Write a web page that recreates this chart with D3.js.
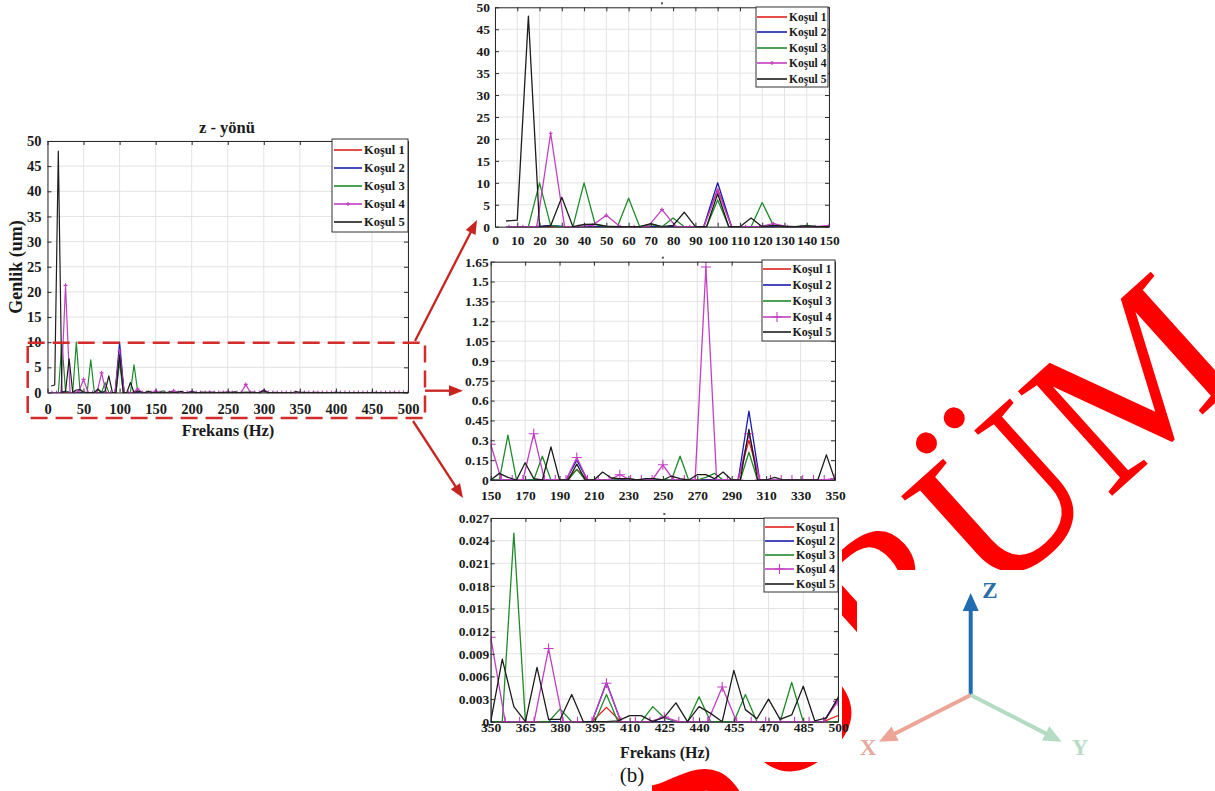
<!DOCTYPE html>
<html>
<head>
<meta charset="utf-8">
<script src="https://cdnjs.cloudflare.com/ajax/libs/d3/7.8.5/d3.min.js"></script>
<style>
  body { margin: 0; background: #fff; }
  text { font-family: "Liberation Serif", "DejaVu Serif", "Times New Roman", serif; }
</style>
</head>
<body>
<svg id="fig" width="1215" height="791"></svg>
<script>
// ---- data ----
var seriesNames = ["Koşul 1", "Koşul 2", "Koşul 3", "Koşul 4", "Koşul 5"];
var seriesColors = ["#e0201b", "#1a1ab0", "#1f8a2a", "#c23fc2", "#1c1c1c"];

// frequency bins (Hz): Koşul 1, 2, 4 sampled every 6.25 Hz, Koşul 3, 5 every 5 Hz
var freqA = d3.range(1, 81).map(function(i){ return i * 6.25; });
var freqB = d3.range(1, 101).map(function(i){ return i * 5; });

// amplitudes (um), 8 values per 50 Hz
var kosul1 = [0,0,0,0,0,0,0,0,  0,0,0,0,0,0,0,8.6,  0,0,0,0,0,0,0,0,  0,0,0,0,0,0,0,0.08,
              0,0,0,0,0,0,0,0,  0,0,0,0,0,0,0,0.3,  0,0,0,0,0,0,0,0,  0,0,0,0,0,0,0,0.0019,
              0,0,0,0,0,0,0,0,  0,0,0,0,0,0,0,0.0008];
var kosul2 = [0,0,0,0.3,0,0,0,0,  0,0,0,0,0,0,0,10,  0,0,0,0,0,0,0,0,  0,0,0,0,0,0,0,0.15,
              0,0,0,0,0,0,0,0,  0,0,0,0,0,0,0,0.52,  0,0,0,0,0,0,0,0,  0,0,0,0,0,0,0,0.0052,
              0,0,0,0,0,0,0,0,  0,0,0,0,0,0,0,0.003];
var kosul4 = [0,0,0,21.3,0,0,0.3,2.6,  0,0,0,3.9,0,0,0,8.3,  0,0,0,0.7,0,0,0,0.27,  0,0,0,0.35,0,0,0,0.17,
              0,0,0,0.04,0,0,0,0.115,  0,0,0,1.61,0,0,0,0.35,  0,0,0,0,0,0,0,0.0112,  0,0,0,0.0097,0,0,0,0.0051,
              0,0,0,0.0006,0,0,0,0.0046,  0,0,0,0,0,0,0,0.0027];
// amplitudes (um), 10 values per 50 Hz
var kosul3 = [0,0,0,10,0.3,0,0,10,0.5,0,
              0,6.5,0,0.5,0,2.0,0,0,0,6.1,
              0,0,0,5.5,0.3,0,0,0.3,0,0,
              0,0.34,0,0,0,0.18,0,0,0,0.08,
              0,0,0,0,0.01,0.01,0,0,0,0,
              0,0.18,0,0,0.02,0.05,0,0,0,0.21,
              0,0,0,0,0,0,0,0,0,0,
              0,0.025,0,0,0,0.0017,0,0,0,0.0036,
              0,0,0,0.002,0.0005,0,0,0.0033,0,0,
              0,0.0036,0,0,0,0.0052,0,0,0,0];
var kosul5 = [1.3,1.5,48,0,0.2,6.7,0,0.5,0.6,0.1,
              0,0,0,0.7,0,0.3,3.3,0,0,7.5,
              0,0,2.0,0,0.3,0.1,0,0.2,0,0,
              0.05,0.02,0,0.13,0.01,0,0.25,0,0,0.12,
              0,0,0.06,0.015,0.01,0.01,0,0.01,0.01,0,
              0.03,0.01,0,0.04,0.04,0.01,0.06,0,0,0.38,
              0,0,0.02,0,0,0,0,0,0.19,0,
              0.0083,0.002,0,0.0072,0.0003,0.0003,0.0036,0,0,0,
              0.0001,0.0008,0.0008,0,0.0006,0.0025,0,0.002,0.0011,0,
              0.0068,0.0016,0.0004,0.003,0.0003,0.0009,0.0047,0.0001,0.0005,0.0032];

// tick values
var overviewXTicks = [0,50,100,150,200,250,300,350,400,450,500];
var overviewYTicks = [0,5,10,15,20,25,30,35,40,45,50];
var lowXTicks = [0,10,20,30,40,50,60,70,80,90,100,110,120,130,140,150];
var lowYTicks = [0,5,10,15,20,25,30,35,40,45,50];
var midXTicks = [150,170,190,210,230,250,270,290,310,330,350];
var midYTicks = [0,0.15,0.3,0.45,0.6,0.75,0.9,1.05,1.2,1.35,1.5,1.65];
var highXTicks = [350,365,380,395,410,425,440,455,470,485,500];
var highYTicks = [0,0.003,0.006,0.009,0.012,0.015,0.018,0.021,0.024,0.027];

var allSeries = [
  { x: freqA, y: kosul1 },
  { x: freqA, y: kosul2 },
  { x: freqB, y: kosul3 },
  { x: freqA, y: kosul4 },
  { x: freqB, y: kosul5 }
];
allSeries.forEach(function(s, i){
  s.name = seriesNames[i];
  s.color = seriesColors[i];
  s.points = s.x.map(function(f, k){ return [f, s.y[k]]; });
});

var svg = d3.select("#fig");
var FONT = "Liberation Serif, DejaVu Serif, Times New Roman, serif";

// watermark behind the pictures
var wm = svg.append("g").attr("transform", "translate(992,604) rotate(-42)")
  .attr("font-size", 215).attr("fill", "#ff0000");
wm.append("text").attr("text-anchor", "end").text("SÜR");
wm.append("text").attr("text-anchor", "start").text("ÜM");

// white background of the axis sketch picture
svg.append("rect").attr("x", 857).attr("y", 570).attr("width", 358).attr("height", 190).attr("fill", "#fff");

function plusPath(cx, cy, s) {
  return "M" + (cx - s) + "," + cy + "h" + (2 * s) + "M" + cx + "," + (cy - s) + "v" + (2 * s);
}

function drawPanel(p) {
  var g = svg.append("g");
  g.append("rect").attr("x", p.bg[0]).attr("y", p.bg[1]).attr("width", p.bg[2]).attr("height", p.bg[3]).attr("fill", "#fff");

  var x = d3.scaleLinear().domain(p.xDomain).range([p.left, p.right]);
  var y = d3.scaleLinear().domain(p.yDomain).range([p.bottom, p.top]);

  // grid
  g.append("g").selectAll("line").data(p.xTicks).enter().append("line")
    .attr("x1", function(d){ return x(d); }).attr("x2", function(d){ return x(d); })
    .attr("y1", p.top).attr("y2", p.bottom)
    .attr("stroke", "#e3e3e3").attr("stroke-width", 1);
  g.append("g").selectAll("line").data(p.yTicks).enter().append("line")
    .attr("y1", function(d){ return y(d); }).attr("y2", function(d){ return y(d); })
    .attr("x1", p.left).attr("x2", p.right)
    .attr("stroke", "#e3e3e3").attr("stroke-width", 1);

  // lines
  g.append("clipPath").attr("id", "clip" + p.id).append("rect")
    .attr("x", p.left).attr("y", p.top - 1).attr("width", p.right - p.left).attr("height", p.bottom - p.top + 2);
  var plot = g.append("g").attr("clip-path", "url(#clip" + p.id + ")");
  var line = d3.line().x(function(d){ return x(d[0]); }).y(function(d){ return y(d[1]); });
  allSeries.forEach(function(s, i){
    plot.append("path").datum(s.points)
      .attr("d", line).attr("fill", "none")
      .attr("stroke", s.color).attr("stroke-width", p.lw)
      .attr("stroke-linejoin", "round");
    if (i === 3) {
      var inRange = s.points.filter(function(d){ return d[0] >= p.xDomain[0] && d[0] <= p.xDomain[1]; });
      plot.append("path")
        .attr("d", inRange.map(function(d){ return plusPath(x(d[0]), y(d[1]), p.ms); }).join(""))
        .attr("stroke", s.color).attr("stroke-width", 1.1).attr("fill", "none");
    }
  });

  // axes, ticks inside like matlab
  function styleAxis(a, fs) {
    a.attr("font-family", FONT).attr("font-size", fs);
    a.select(".domain").attr("stroke", "#2b2b2b");
    a.selectAll(".tick line").attr("stroke", "#2b2b2b");
    a.selectAll("text").attr("font-weight", "bold").attr("fill", "#1a1a1a");
  }
  var xa = g.append("g").attr("transform", "translate(0," + p.bottom + ")")
    .call(d3.axisBottom(x).tickValues(p.xTicks).tickSize(-4).tickSizeOuter(0).tickPadding(p.xPad).tickFormat(function(d){ return String(d); }));
  styleAxis(xa, p.fs);
  var ya = g.append("g").attr("transform", "translate(" + p.left + ",0)")
    .call(d3.axisLeft(y).tickValues(p.yTicks).tickSize(-4).tickSizeOuter(0).tickPadding(p.yPad).tickFormat(function(d){ return String(d); }));
  styleAxis(ya, p.fs);
  var ta = g.append("g").attr("transform", "translate(0," + p.top + ")")
    .call(d3.axisTop(x).tickValues(p.xTicks).tickSize(-4).tickSizeOuter(0).tickFormat(""));
  styleAxis(ta, p.fs);
  var ra = g.append("g").attr("transform", "translate(" + p.right + ",0)")
    .call(d3.axisRight(y).tickValues(p.yTicks).tickSize(-4).tickSizeOuter(0).tickFormat(""));
  styleAxis(ra, p.fs);

  // legend
  var L = p.legend;
  var lg = g.append("g");
  lg.append("rect").attr("x", L.x).attr("y", L.y).attr("width", L.w).attr("height", L.h)
    .attr("fill", "#fff").attr("stroke", "#333").attr("stroke-width", 1);
  allSeries.forEach(function(s, i){
    var ry = L.rows[i];
    lg.append("line").attr("x1", L.x1).attr("x2", L.x2).attr("y1", ry).attr("y2", ry)
      .attr("stroke", s.color).attr("stroke-width", 1.6);
    if (i === 3) {
      lg.append("path").attr("d", plusPath((L.x1 + L.x2) / 2, ry, L.ms))
        .attr("stroke", s.color).attr("stroke-width", 1.1);
    }
    lg.append("text").attr("x", L.tx).attr("y", ry).attr("dy", "0.35em")
      .attr("font-size", L.fs).attr("font-weight", "bold").attr("fill", "#1a1a1a")
      .text(s.name);
  });

  // tiny speck where the empty title sits
  if (p.mark) {
    g.append("rect").attr("x", (p.left + p.right) / 2 - 1).attr("y", p.top - 5)
      .attr("width", 2).attr("height", 2).attr("fill", "#555");
  }
  return g;
}

// overview
drawPanel({
  id: "a", bg: [0, 108, 440, 340],
  left: 47.5, right: 408, top: 141, bottom: 392.5,
  xDomain: [0, 500], yDomain: [0, 50], xTicks: overviewXTicks, yTicks: overviewYTicks,
  fs: 14.5, xPad: 11, yPad: 6, lw: 1.2, ms: 2,
  legend: { x: 332, y: 139, w: 76, h: 93, x1: 334, x2: 362, tx: 364, rows: [150, 168, 186, 204, 222], fs: 12.5, ms: 2 }
});
// 0 - 150 Hz
drawPanel({
  id: "b", bg: [440, 0, 402, 250], mark: true,
  left: 495, right: 829, top: 7.3, bottom: 226.7,
  xDomain: [0, 150], yDomain: [0, 50], xTicks: lowXTicks, yTicks: lowYTicks,
  fs: 13.5, xPad: 8.5, yPad: 5, lw: 1.3, ms: 2,
  legend: { x: 756, y: 7, w: 72, h: 80, x1: 757, x2: 787, tx: 789, rows: [17, 32, 48, 63, 79], fs: 11.5, ms: 2 }
});
// 150 - 350 Hz
drawPanel({
  id: "c", bg: [440, 250, 402, 255], mark: true,
  left: 490.7, right: 835, top: 261.7, bottom: 480,
  xDomain: [150, 350], yDomain: [0, 1.65], xTicks: midXTicks, yTicks: midYTicks,
  fs: 13.5, xPad: 10, yPad: 2, lw: 1.3, ms: 5,
  legend: { x: 762, y: 260, w: 73, h: 81, x1: 763, x2: 791, tx: 792.5, rows: [269, 285, 301, 317, 332], fs: 12, ms: 5 }
});
// 350 - 500 Hz
drawPanel({
  id: "d", bg: [440, 505, 402, 257], mark: true,
  left: 490.7, right: 838, top: 518, bottom: 721.7,
  xDomain: [350, 500], yDomain: [0, 0.027], xTicks: highXTicks, yTicks: highYTicks,
  fs: 13.5, xPad: 0.5, yPad: 1.5, lw: 1.3, ms: 5,
  legend: { x: 764, y: 518, w: 74, h: 74, x1: 765, x2: 794, tx: 796, rows: [527, 541, 555, 569, 584], fs: 12, ms: 5 }
});

// titles / axis names
svg.append("text").attr("x", 227).attr("y", 127).attr("dy", "0.35em").attr("text-anchor", "middle")
  .attr("font-size", 16.5).attr("font-weight", "bold").attr("fill", "#1a1a1a").text("z - yönü");
svg.append("text").attr("x", 228).attr("y", 430).attr("dy", "0.35em").attr("text-anchor", "middle")
  .attr("font-size", 16.5).attr("font-weight", "bold").attr("fill", "#1a1a1a").text("Frekans (Hz)");
svg.append("text").attr("transform", "translate(16,267) rotate(-90)").attr("dy", "0.35em").attr("text-anchor", "middle")
  .attr("font-size", 18).attr("font-weight", "bold").attr("fill", "#1a1a1a").text("Genlik (um)");
// white patch behind the panel letter
svg.append("rect").attr("x", 612).attr("y", 755).attr("width", 40).attr("height", 36).attr("fill", "#fff");
svg.append("text").attr("x", 665).attr("y", 752).attr("dy", "0.35em").attr("text-anchor", "middle")
  .attr("font-size", 16).attr("font-weight", "bold").attr("fill", "#1a1a1a").text("Frekans (Hz)");
svg.append("text").attr("x", 632).attr("y", 775).attr("dy", "0.35em").attr("text-anchor", "middle")
  .attr("font-size", 21).attr("fill", "#111").text("(b)");

// zoom box and arrows
svg.append("rect").attr("x", 27.7).attr("y", 342.7).attr("width", 397.3).attr("height", 75.3)
  .attr("fill", "none").attr("stroke", "#d42b2b").attr("stroke-width", 2.5).attr("stroke-dasharray", "17,8");

function arrow(x1, y1, x2, y2, color, w, hl, hw) {
  var dx = x2 - x1, dy = y2 - y1, len = Math.sqrt(dx * dx + dy * dy);
  var ux = dx / len, uy = dy / len;
  var bx = x2 - ux * hl, by = y2 - uy * hl;
  svg.append("line").attr("x1", x1).attr("y1", y1).attr("x2", bx + ux * 2).attr("y2", by + uy * 2)
    .attr("stroke", color).attr("stroke-width", w);
  svg.append("polygon")
    .attr("points", [[x2, y2], [bx - uy * hw / 2, by + ux * hw / 2], [bx + uy * hw / 2, by - ux * hw / 2]].join(" "))
    .attr("fill", color);
}
arrow(415, 341, 477, 220, "#c8241f", 2.3, 14, 11);
arrow(425, 390.7, 463, 390.7, "#c8241f", 2.3, 14, 11);
arrow(413, 421, 463, 498, "#c8241f", 2.3, 14, 11);

// coordinate sketch
arrow(970.7, 695, 970.7, 593, "#1f6db0", 4, 18, 16);
arrow(970.7, 695, 879, 741.7, "#eca597", 4, 18, 16);
arrow(970.7, 695, 1061.7, 741.7, "#b3dcc3", 4, 18, 16);
svg.append("text").attr("x", 990).attr("y", 590).attr("dy", "0.35em").attr("text-anchor", "middle")
  .attr("font-size", 23).attr("font-weight", "bold").attr("fill", "#2a6ea8").text("Z");
svg.append("text").attr("x", 868).attr("y", 747).attr("dy", "0.35em").attr("text-anchor", "middle")
  .attr("font-size", 23).attr("font-weight", "bold").attr("fill", "#e8aa9e").text("X");
svg.append("text").attr("x", 1080).attr("y", 747).attr("dy", "0.35em").attr("text-anchor", "middle")
  .attr("font-size", 23).attr("font-weight", "bold").attr("fill", "#b8dcc8").text("Y");
</script>
</body>
</html>
